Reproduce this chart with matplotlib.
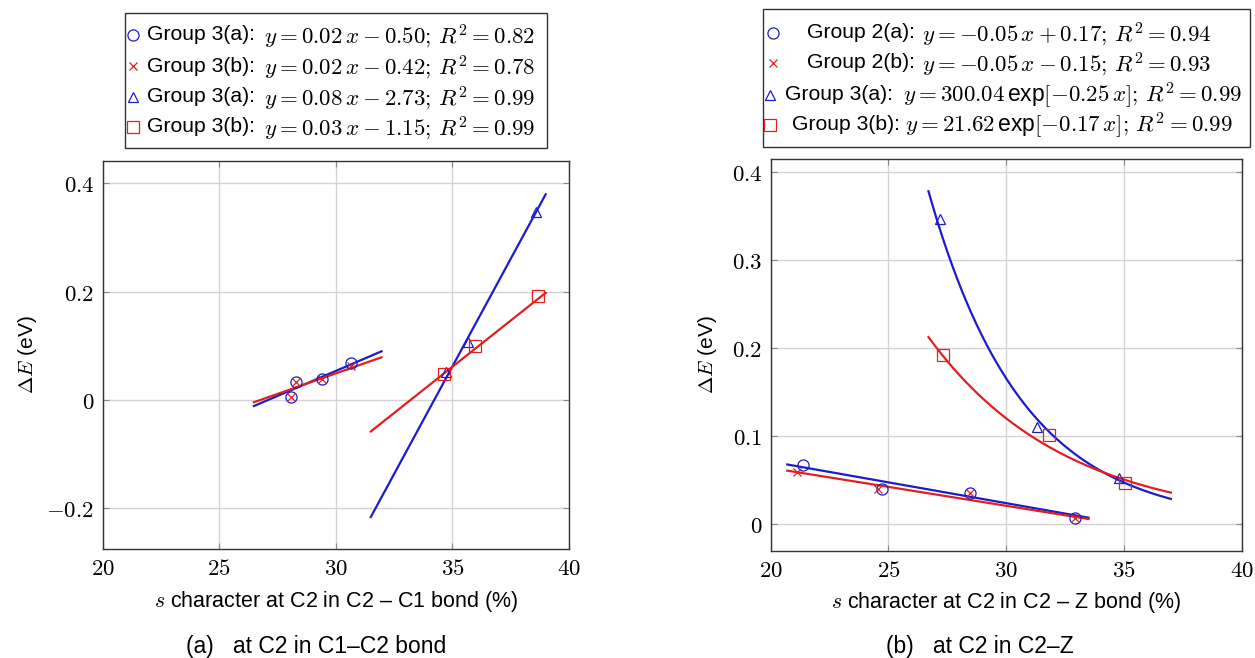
import numpy as np
import matplotlib.pyplot as plt
from matplotlib.lines import Line2D
from matplotlib.patches import Rectangle
from matplotlib.ticker import FuncFormatter

plt.rcParams['font.family'] = ['Liberation Sans', 'DejaVu Sans']
plt.rcParams['mathtext.fontset'] = 'cm'

BLUE = '#1c1cc8'
RED = '#e02020'

# ---- panel (a): C1-C2 bond ----
a_circ_x = [28.07, 28.28, 29.42, 30.67]
a_circ_y = [0.006, 0.034, 0.039, 0.068]
a_cross_x = [28.07, 28.28, 29.42, 30.67]
a_cross_y = [0.006, 0.034, 0.039, 0.062]
a_tri_x = [34.74, 35.67, 38.58]
a_tri_y = [0.052, 0.107, 0.347]
a_sq_x = [34.63, 35.96, 38.68]
a_sq_y = [0.048, 0.099, 0.193]
# fitted lines (end points)
a_circ_fit_x = [26.49, 31.96]
a_circ_fit_y = [-0.011, 0.090]
a_cross_fit_x = [26.49, 31.96]
a_cross_fit_y = [-0.004, 0.079]
a_tri_fit_x = [31.5, 39.0]
a_tri_fit_y = [-0.216, 0.380]
a_sq_fit_x = [31.5, 39.0]
a_sq_fit_y = [-0.058, 0.198]

# ---- panel (b): C2-Z bond ----
b_circ_x = [21.38, 24.72, 28.45, 32.94]
b_circ_y = [0.067, 0.040, 0.036, 0.0075]
b_cross_x = [21.10, 24.57, 28.45, 32.94]
b_cross_y = [0.060, 0.040, 0.036, 0.0075]
b_tri_x = [27.20, 31.29, 34.79]
b_tri_y = [0.347, 0.111, 0.053]
b_sq_x = [27.31, 31.81, 35.04]
b_sq_y = [0.192, 0.101, 0.047]
b_circ_fit_x = [20.7, 33.5]
b_circ_fit_y = [0.068, 0.0075]
b_cross_fit_x = [20.7, 33.5]
b_cross_fit_y = [0.061, 0.006]
# exponential fits y = A exp(B x)
b_tri_fit = (300.04, -0.25)
b_sq_fit = (21.3, -0.1725)
b_exp_range = (26.7, 37.0)

names_a = ['Group 3(a):', 'Group 3(b):', 'Group 3(a):', 'Group 3(b):']
eqs_a = [
    r'$y = 0.02\,x - 0.50;\, R^2 = 0.82$',
    r'$y = 0.02\,x - 0.42;\, R^2 = 0.78$',
    r'$y = 0.08\,x - 2.73;\, R^2 = 0.99$',
    r'$y = 0.03\,x - 1.15;\, R^2 = 0.99$',
]
names_b = ['Group 2(a):', 'Group 2(b):', 'Group 3(a):', 'Group 3(b):']
eqs_b = [
    r'$y = -0.05\,x + 0.17;\, R^2 = 0.94$',
    r'$y = -0.05\,x - 0.15;\, R^2 = 0.93$',
    r'$y = 300.04\,$exp$[-0.25\,x];\, R^2 = 0.99$',
    r'$y = 21.62\,$exp$[-0.17\,x];\, R^2 = 0.99$',
]
markers = [('o', BLUE), ('x', RED), ('^', BLUE), ('s', RED)]

W, H = 1255, 658
fig = plt.figure(figsize=(W / 100, H / 100), dpi=100)


def px_axes(x0, y0, x1, y1):
    return fig.add_axes([x0 / W, 1 - y1 / H, (x1 - x0) / W, (y1 - y0) / H])


def style(ax, yticks, ylim):
    ax.set_xlim(20, 40)
    ax.set_xticks([20, 25, 30, 35, 40])
    ax.set_ylim(*ylim)
    ax.set_yticks(yticks)
    fmt = FuncFormatter(lambda v, p: '$%g$' % round(v, 3))
    ax.xaxis.set_major_formatter(fmt)
    ax.yaxis.set_major_formatter(fmt)
    ax.grid(True, color='#d4d4d4', linewidth=1.0)
    ax.set_axisbelow(True)
    ax.tick_params(direction='in', length=4, color='#888888', labelsize=16.5,
                   top=True, right=True, pad=6)
    for s in ax.spines.values():
        s.set_color('#333333')
        s.set_linewidth(1.0)
    ax.set_ylabel(r'$\Delta E$ (eV)', fontsize=15)


mk = dict(linestyle='none', fillstyle='none', markeredgewidth=0.9)
lw = 1.6

# panel (a)
ax1 = px_axes(102.6, 160.7, 569, 549)
style(ax1, [-0.2, 0, 0.2, 0.4], (-0.275, 0.442))
ax1.plot(a_circ_fit_x, a_circ_fit_y, color=BLUE, lw=lw)
ax1.plot(a_cross_fit_x, a_cross_fit_y, color=RED, lw=lw)
ax1.plot(a_tri_fit_x, a_tri_fit_y, color=BLUE, lw=lw)
ax1.plot(a_sq_fit_x, a_sq_fit_y, color=RED, lw=lw)
ax1.plot(a_circ_x, a_circ_y, marker='o', color=BLUE, markersize=8, **mk)
ax1.plot(a_cross_x, a_cross_y, marker='x', color=RED, markersize=6, **mk)
ax1.plot(a_tri_x, a_tri_y, marker='^', color=BLUE, markersize=7, **mk)
ax1.plot(a_sq_x, a_sq_y, marker='s', color=RED, markersize=8, **mk)
ax1.set_xlabel(r'$s$ character at C2 in C2 – C1 bond (%)', fontsize=15.5, labelpad=6)
ax1.yaxis.set_label_coords(-0.137, 0.5)

# panel (b)
ax2 = px_axes(770.8, 159.3, 1241.5, 550.5)
style(ax2, [0, 0.1, 0.2, 0.3, 0.4], (-0.0298, 0.415))
ax2.plot(b_circ_fit_x, b_circ_fit_y, color=BLUE, lw=lw)
ax2.plot(b_cross_fit_x, b_cross_fit_y, color=RED, lw=lw)
xe = np.linspace(*b_exp_range, 200)
ax2.plot(xe, b_tri_fit[0] * np.exp(b_tri_fit[1] * xe), color=BLUE, lw=lw)
ax2.plot(xe, b_sq_fit[0] * np.exp(b_sq_fit[1] * xe), color=RED, lw=lw)
ax2.plot(b_circ_x, b_circ_y, marker='o', color=BLUE, markersize=8, **mk)
ax2.plot(b_cross_x, b_cross_y, marker='x', color=RED, markersize=6, **mk)
ax2.plot(b_tri_x, b_tri_y, marker='^', color=BLUE, markersize=7, **mk)
ax2.plot(b_sq_x, b_sq_y, marker='s', color=RED, markersize=8, **mk)
ax2.set_xlabel(r'$s$ character at C2 in C2 – Z bond (%)', fontsize=15.5, labelpad=6)
ax2.yaxis.set_label_coords(-0.11, 0.5)

# overlay in pixel coordinates for legends and captions
ov = fig.add_axes([0, 0, 1, 1])
ov.set_xlim(0, W)
ov.set_ylim(H, 0)
ov.axis('off')


def draw_legend(box, rows_y, mark_x, names, name_x, eqs, eq_x):
    x0, y0, x1, y1 = box
    ov.add_patch(Rectangle((x0, y0), x1 - x0, y1 - y0, fill=False,
                           edgecolor='#333333', linewidth=1.0))
    for i, (m, c) in enumerate(markers):
        ms = {'o': 8, 'x': 6, '^': 7, 's': 8}[m]
        ov.add_line(Line2D([mark_x[i]], [rows_y[i]], marker=m, color=c,
                           markersize=ms, **mk))
        ov.text(name_x[i], rows_y[i], names[i], ha='left', va='center',
                fontsize=15.2)
        ov.text(eq_x[i], rows_y[i] + 1, eqs[i], ha='left', va='center',
                fontsize=16.5)


draw_legend((125, 13, 547, 148), [35, 66, 97, 127], [133] * 4,
            names_a, [147] * 4, eqs_a, [264] * 4)
draw_legend((763, 9, 1250, 147), [33, 63, 95, 125], [773, 773, 770, 770],
            names_b, [807, 807, 785, 792], eqs_b, [922, 922, 903, 905])

ov.text(316, 646, '(a)   at C2 in C1–C2 bond', ha='center', va='center', fontsize=16.5)
ov.text(980, 646, '(b)   at C2 in C2–Z', ha='center', va='center', fontsize=16.5)

fig.savefig('out.png', dpi=100)
